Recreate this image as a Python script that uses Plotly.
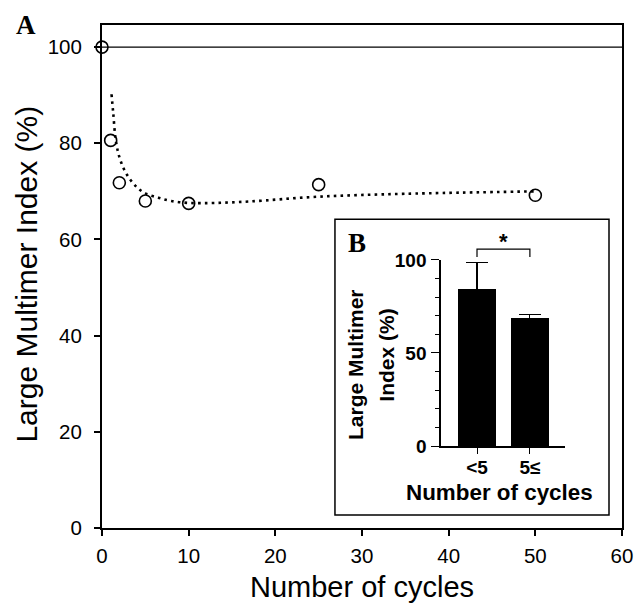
import plotly.graph_objects as go

# ---- data ----
CYCLES = [0, 1, 2, 5, 10, 25, 50]
LMI = [100, 80.6, 71.8, 68.0, 67.5, 71.4, 69.2]

FIT_X = [1.1, 1.3, 1.6, 2.1, 2.9, 4.0, 5.0, 6.5, 8, 10, 13, 17, 25, 35, 50]
FIT_Y = [90.2, 86.2, 80.5, 76.6, 73.4, 70.9, 69.6, 68.7, 68.0, 67.6, 67.6, 67.9, 68.9, 69.5, 70.0]

REF_X = [0, 60]
REF_Y = [100, 100]

GROUPS = ["<5", "5\u2264"]
GROUP_MEAN = [84.2, 68.6]
GROUP_ERR = [14.3, 2.0]

X_TICKS = [0, 10, 20, 30, 40, 50, 60]
Y_TICKS = [0, 20, 40, 60, 80, 100]
INSET_Y_TICKS = [0, 50, 100]

SANS = "Liberation Sans, Arial, sans-serif"
SERIF = "Liberation Serif, Times New Roman, serif"

XR2 = [-0.68, 1.66]
YR2 = [0, 100]

fig = go.Figure()

# reference line at 100 %
fig.add_trace(go.Scatter(x=REF_X, y=REF_Y, mode="lines",
                         line=dict(color="black", width=1.2),
                         showlegend=False, hoverinfo="skip"))
# fitted dotted curve
fig.add_trace(go.Scatter(x=FIT_X, y=FIT_Y, mode="lines",
                         line=dict(color="black", width=2.6, dash="2.6px,4.2px",
                                   shape="spline", smoothing=1.0),
                         showlegend=False))
# data points
fig.add_trace(go.Scatter(x=CYCLES, y=LMI, mode="markers",
                         marker=dict(symbol="circle-open", size=12,
                                     color="black", line=dict(width=1.6, color="black")),
                         cliponaxis=False, showlegend=False))

# inset bars
fig.add_trace(go.Bar(x=[0, 1], y=GROUP_MEAN, width=0.72,
                     marker=dict(color="black", line=dict(width=0)),
                     error_y=dict(type="data", array=GROUP_ERR, arrayminus=[0, 0],
                                  symmetric=False, color="black", thickness=1.2, width=11),
                     xaxis="x2", yaxis="y2", showlegend=False))

def fx(c):
    return (c - XR2[0]) / (XR2[1] - XR2[0])

def fy(v):
    return (v - YR2[0]) / (YR2[1] - YR2[0])

shapes = [
    # inset frame
    dict(type="rect", xref="paper", yref="paper", x0=0.448, x1=0.975, y0=0.026, y1=0.614,
         line=dict(color="black", width=1.5), fillcolor="rgba(0,0,0,0)", layer="below"),
    # significance bracket
    dict(type="path", xref="x2 domain", yref="y2 domain",
         path=f"M {fx(0)} {fy(101.5)} L {fx(0)} {fy(105.8)} L {fx(1)} {fy(105.8)} L {fx(1)} {fy(101.5)}",
         line=dict(color="black", width=1.2)),
]

annotations = [
    dict(text="<b>A</b>", xref="paper", yref="paper", x=-0.146, y=1.0, xanchor="center",
         yanchor="middle", showarrow=False, font=dict(family=SERIF, size=27, color="black")),
    dict(text="<b>B</b>", xref="paper", yref="paper", x=0.49, y=0.566, xanchor="center",
         yanchor="middle", showarrow=False, font=dict(family=SERIF, size=27, color="black")),
    dict(text="<b>*</b>", xref="x2 domain", yref="y2 domain", x=fx(0.5), y=fy(110),
         xanchor="center", yanchor="middle", showarrow=False,
         font=dict(family=SANS, size=22, color="black")),
    # main axis titles
    dict(text="Number of cycles", xref="paper", yref="paper", x=0.5, y=-0.118,
         xanchor="center", yanchor="middle", showarrow=False,
         font=dict(family=SANS, size=29, color="black")),
    dict(text="Large Multimer Index (%)", xref="paper", yref="paper", x=-0.145, y=0.505,
         xanchor="center", yanchor="middle", textangle=-90, showarrow=False,
         font=dict(family=SANS, size=30, color="black")),
    # inset axis titles
    dict(text="<b>Number of cycles</b>", xref="paper", yref="paper", x=0.765, y=0.07,
         xanchor="center", yanchor="middle", showarrow=False,
         font=dict(family=SANS, size=22.4, color="black")),
    dict(text="<b>Large Multimer</b>", xref="paper", yref="paper", x=0.4865, y=0.326,
         xanchor="center", yanchor="middle", textangle=-90, showarrow=False,
         font=dict(family=SANS, size=21, color="black")),
    dict(text="<b>Index (%)</b>", xref="paper", yref="paper", x=0.5475, y=0.344,
         xanchor="center", yanchor="middle", textangle=-90, showarrow=False,
         font=dict(family=SANS, size=21, color="black")),
]

fig.update_layout(
    width=635, height=604,
    margin=dict(l=102, r=13, t=25, b=76, pad=0),
    paper_bgcolor="white", plot_bgcolor="white",
    font=dict(family=SANS, color="black"),
    showlegend=False,
    bargap=0,
    shapes=shapes,
    annotations=annotations,
    xaxis=dict(range=[0, 60], tickvals=X_TICKS, ticks="outside", ticklen=6, tickwidth=1.5,
               tickcolor="black", showline=True, linewidth=2, linecolor="black", mirror=True,
               showgrid=False, zeroline=False, ticklabelstandoff=2, automargin=False,
               tickfont=dict(family=SANS, size=20.5, color="black")),
    yaxis=dict(range=[0, 104.6], tickvals=Y_TICKS, ticks="outside", ticklen=6, tickwidth=1.5,
               tickcolor="black", showline=True, linewidth=2, linecolor="black", mirror=True,
               showgrid=False, zeroline=False, ticklabelstandoff=8, automargin=False,
               tickfont=dict(family=SANS, size=20.5, color="black")),
    xaxis2=dict(domain=[0.652, 0.890], anchor="y2", range=XR2, tickvals=[0, 1],
                ticktext=GROUPS, ticks="outside", ticklen=6, tickwidth=1.2, tickcolor="black",
                showline=True, linewidth=1.5, linecolor="black", showgrid=False, zeroline=False,
                ticklabelstandoff=-3, automargin=False,
                tickfont=dict(family=SANS, size=19, color="black", weight="bold")),
    yaxis2=dict(domain=[0.163, 0.533], anchor="x2", range=YR2, tickvals=INSET_Y_TICKS,
                ticks="outside", ticklen=8, tickwidth=1.2, tickcolor="black",
                minor=dict(dtick=10, ticks="outside", ticklen=4, tickwidth=1.2, tickcolor="black"),
                showline=True, linewidth=1.5, linecolor="black", showgrid=False, zeroline=False,
                ticklabelstandoff=1, automargin=False,
                tickfont=dict(family=SANS, size=19, color="black", weight="bold")),
)

fig.write_html("out.html", config={"displayModeBar": False},
               post_script="document.body.style.margin='0px';document.body.style.overflow='hidden';")
